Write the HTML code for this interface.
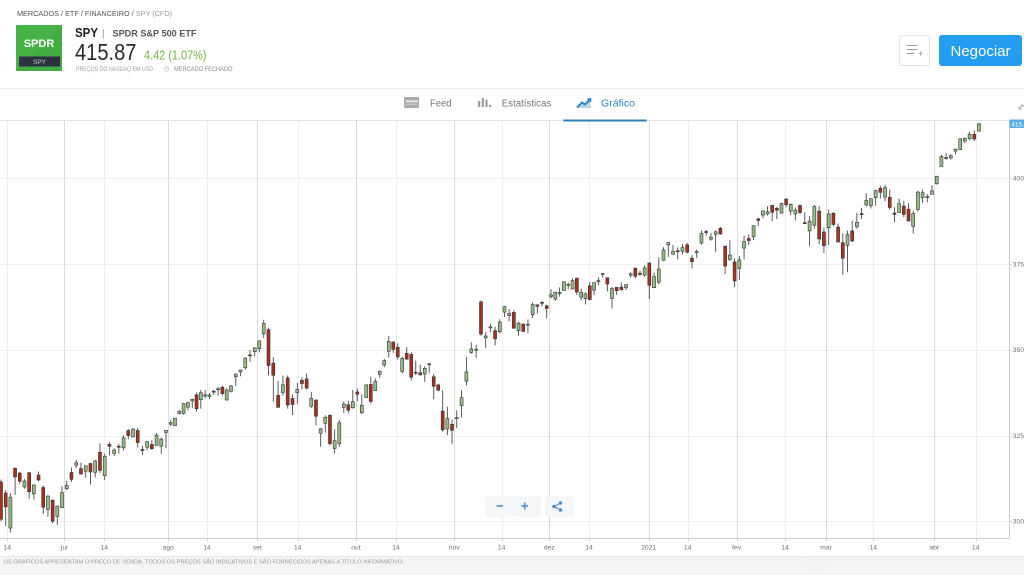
<!DOCTYPE html>
<html>
<head>
<meta charset="utf-8">
<style>
  html,body{margin:0;padding:0;background:#fff;}
  body{width:1024px;height:575px;overflow:hidden;}
  svg{display:block;font-family:"Liberation Sans",Arial,sans-serif;}
</style>
</head>
<body>
<svg id="s" width="1024" height="575" viewBox="0 0 1024 575" xmlns="http://www.w3.org/2000/svg">
  <rect x="0" y="0" width="1024" height="575" fill="#ffffff"/>

  <!-- breadcrumb -->
  <text x="17" y="16" font-size="7.6" fill="#555" textLength="155" lengthAdjust="spacingAndGlyphs">MERCADOS / ETF / FINANCEIRO / <tspan fill="#9a9a9a">SPY (CFD)</tspan></text>

  <!-- logo -->
  <rect x="16" y="25" width="46" height="46" rx="1" fill="#46b247"/>
  <polygon points="62,25 62,71 16,71" fill="#3fa941" opacity="0.6"/>
  <text x="39" y="47" font-size="11" font-weight="bold" fill="#fff" text-anchor="middle">SPDR</text>
  <rect x="19" y="56.5" width="41" height="10" fill="#2c3242"/>
  <text x="39.5" y="64" font-size="6.5" fill="#c9c9c9" text-anchor="middle">SPY</text>

  <!-- title -->
  <text x="75" y="37" font-size="13" font-weight="bold" fill="#222" textLength="23" lengthAdjust="spacingAndGlyphs">SPY</text>
  <text x="102" y="36.5" font-size="10" fill="#999">|</text>
  <text x="112.5" y="36.5" font-size="9.3" font-weight="bold" fill="#555" textLength="84" lengthAdjust="spacingAndGlyphs">SPDR S&amp;P 500 ETF</text>
  <text x="75" y="60" font-size="23" fill="#2a2a2a" textLength="61.5" lengthAdjust="spacingAndGlyphs">415.87</text>
  <text x="144" y="59.3" font-size="13" fill="#72b444" textLength="62.5" lengthAdjust="spacingAndGlyphs">4.42 (1.07%)</text>
  <text x="76" y="71" font-size="6" fill="#a3a3a3" textLength="77" lengthAdjust="spacingAndGlyphs">PREÇOS DO NASDAQ EM USD</text>
  <circle cx="166.7" cy="69" r="2.2" fill="none" stroke="#b0b0b0" stroke-width="0.6"/>
  <path d="M166.7 67.6 V69 H167.8" fill="none" stroke="#b0b0b0" stroke-width="0.5"/>
  <text x="174" y="71" font-size="6" fill="#8a8a8a" textLength="58.5" lengthAdjust="spacingAndGlyphs">MERCADO FECHADO</text>

  <!-- right buttons -->
  <rect x="899.5" y="35.5" width="30" height="30" rx="3" fill="#fff" stroke="#e3e3e3"/>
  <path d="M906.7 45.5 H917.3 M906.7 49.5 H917.3 M906.7 53.5 H914" stroke="#a0a0a0" stroke-width="1"/>
  <path d="M918.3 53.5 H922.7 M920.5 51.3 V55.7" stroke="#a0a0a0" stroke-width="0.8"/>
  <rect x="939" y="35" width="83" height="31" rx="3" fill="#249cf0"/>
  <text x="980.5" y="56" font-size="15" fill="#fff" text-anchor="middle">Negociar</text>

  <!-- header separator -->
  <line x1="0" y1="88.5" x2="1024" y2="88.5" stroke="#ececec"/>

  <!-- tabs -->
  <rect x="404" y="97" width="15" height="11" rx="1" fill="#ababab"/>
  <rect x="405.5" y="100.3" width="12" height="2" fill="#e6e6e6"/>
  <rect x="405.5" y="103.8" width="12" height="1" fill="#cfcfcf"/>
  <text x="430" y="106.5" font-size="10" fill="#777" textLength="21.5" lengthAdjust="spacingAndGlyphs">Feed</text>

  <rect x="478" y="101" width="2.2" height="6" fill="#9e9e9e"/>
  <rect x="481.7" y="98" width="2.2" height="9" fill="#9e9e9e"/>
  <rect x="485.4" y="99.5" width="2.2" height="7.5" fill="#9e9e9e"/>
  <rect x="489" y="104.8" width="2.2" height="2.2" fill="#9e9e9e"/>
  <text x="501.7" y="106.5" font-size="10" fill="#777" textLength="49.6" lengthAdjust="spacingAndGlyphs">Estatísticas</text>

  <polygon points="577,108 582,103 585,105 589.5,100.5 591,108" fill="#2f86c6" opacity="0.35"/>
  <polyline points="577,107.5 582,102.5 585,104.5 590,99.5" fill="none" stroke="#2f86c6" stroke-width="2"/>
  <polygon points="586.8,98.6 591.5,98 591,102.7" fill="#2f86c6"/>
  <text x="601" y="106.5" font-size="10" fill="#2f86c6" textLength="34" lengthAdjust="spacingAndGlyphs">Gráfico</text>

  <!-- expand icon -->
  <path d="M1019 109 L1023 105 M1019 109 V106.5 M1019 109 H1021.5 M1023 105 V107 M1023 105 H1021" stroke="#9a9a9a" stroke-width="0.8" fill="none"/>

  <!-- chart grid -->
  <g id="grid"></g>
  <g id="candles"></g>

  <!-- chart top border & tab underline -->
  <line x1="0" y1="120.5" x2="1010" y2="120.5" stroke="#e2e2e2"/>
  <rect x="563.3" y="119.5" width="83.4" height="2" fill="#2f7fb8"/>

  <!-- axes -->
  <line x1="0" y1="538.5" x2="1009.5" y2="538.5" stroke="#cfcfcf"/>
  <line x1="1009.5" y1="120" x2="1009.5" y2="538.5" stroke="#cfcfcf"/>
  <g id="axislabels" font-size="6.8" fill="#707070"></g>

  <!-- current price label -->
  <rect x="1009.5" y="119.5" width="15" height="8.5" fill="#5aaee3"/>
  <text x="1011.3" y="126.3" font-size="6.5" fill="#fff">415.87</text>

  <!-- zoom controls -->
  <rect x="486" y="497" width="25" height="19" rx="1" fill="#f6f7f8" stroke="#ececec" stroke-width="0.6"/>
  <rect x="513" y="497" width="27" height="19" rx="1" fill="#f6f7f8" stroke="#ececec" stroke-width="0.6"/>
  <rect x="546" y="497" width="27" height="19" rx="1" fill="#f6f7f8" stroke="#ececec" stroke-width="0.6"/>
  <line x1="496.5" y1="506" x2="503" y2="506" stroke="#4a90d0" stroke-width="1.6"/>
  <path d="M521.2 506 H528.2 M524.7 502.5 V509.5" stroke="#4a90d0" stroke-width="1.6"/>
  <path d="M554 506.5 L560.5 503 M554 506.5 L560.5 510" stroke="#4a90d0" stroke-width="1"/>
  <circle cx="554" cy="506.5" r="1.8" fill="#4a90d0"/>
  <circle cx="560.5" cy="503" r="1.8" fill="#4a90d0"/>
  <circle cx="560.5" cy="510" r="1.8" fill="#4a90d0"/>

  <!-- footer -->
  <rect x="0" y="556" width="1024" height="19" fill="#f4f4f4"/>
  <line x1="0" y1="556.5" x2="1024" y2="556.5" stroke="#e8e8e8"/>
  <polyline points="803,557 816,570 830,557" fill="none" stroke="#eeeeee" stroke-width="0.8"/>
  <text x="3.5" y="563.5" font-size="5.5" fill="#9a9a9a" textLength="400.5" lengthAdjust="spacingAndGlyphs">OS GRÁFICOS APRESENTAM O PREÇO DE VENDA. TODOS OS PREÇOS SÃO INDICATIVOS E SÃO FORNECIDOS APENAS A TÍTULO INFORMATIVO.</text>
</svg>

<script>
(function(){
  var NS="http://www.w3.org/2000/svg";
  function el(tag, attrs, parent, txt){
    var e=document.createElementNS(NS,tag);
    for(var k in attrs){e.setAttribute(k,attrs[k]);}
    if(txt!==undefined){e.textContent=txt;}
    parent.appendChild(e);return e;
  }
  function Y(p){return 521.3-(p-300)*3.43;}

  var grid=document.getElementById("grid");
  var labels=document.getElementById("axislabels");

  [400,375,350,325,300].forEach(function(p){
    var y=Math.round(Y(p))+0.5;
    el("line",{x1:0,y1:y,x2:1009,y2:y,stroke:"#f0f0f0"},grid);
    el("line",{x1:1009.5,y1:y,x2:1012,y2:y,stroke:"#bdbdbd","stroke-width":0.6},labels);
    el("text",{x:1012.7,y:(Y(p)+2.4).toFixed(1)},labels,String(p));
  });

  var V=[[7.3,"14",0],[64.3,"jul",1],[104.3,"14",0],[168.3,"ago",1],[207,"14",0],
         [257.3,"set",1],[297.7,"14",0],[356,"out",1],[396,"14",0],[454.3,"nov",1],
         [501.7,"14",0],[549.3,"dez",1],[589,"14",0],[648.7,"2021",1],[687.7,"14",0],
         [736.7,"fev",1],[785,"14",0],[826,"mar",1],[873.3,"14",0],[934.3,"abr",1],[975.7,"14",0]];
  V.forEach(function(v){
    var x=Math.round(v[0])+0.5;
    el("line",{x1:x,y1:121,x2:x,y2:538,stroke:v[2]?"#dadada":"#eeeeee"},grid);
    el("line",{x1:x,y1:538,x2:x,y2:541.5,stroke:"#cfcfcf","stroke-width":0.8},labels);
    el("text",{x:v[0],y:549.3,"text-anchor":"middle"},labels,v[1]);
  });

  var D=[
[311.46,312.15,300.01,300.61],[308.24,309.08,298.60,304.21],[298.02,308.28,296.74,307.05],[315.48,315.64,307.67,312.96],
[314.07,314.39,310.86,311.66],[310.01,312.30,309.51,311.78],[314.17,314.38,306.53,308.64],[307.99,310.72,306.32,310.62],
[313.49,314.50,311.61,312.05],[309.84,310.51,302.10,304.09],[303.47,307.64,301.28,307.35],[306.16,306.39,299.42,300.05],
[301.41,304.61,298.93,304.46],[303.99,310.20,303.82,308.36],
[309.57,311.89,309.07,310.52],[314.24,315.70,311.51,312.23],[316.37,317.88,315.56,317.05],[315.38,317.10,313.67,313.78],
[314.61,316.30,312.70,316.18],[316.84,317.10,310.68,314.38],[314.31,317.88,312.76,317.59],[320.13,322.71,314.13,314.84],
[313.30,319.76,312.00,318.92],[322.41,323.04,319.26,321.85],[319.79,321.28,319.09,320.79],[321.88,322.57,319.74,321.72],
[321.43,325.13,320.62,324.32],[326.45,326.93,323.94,325.01],[324.62,327.20,324.50,326.86],[326.47,327.23,321.48,322.96],
[320.95,321.99,319.25,320.88],[321.63,323.41,320.77,323.22],[322.43,323.64,320.85,321.17],[322.12,325.73,322.08,325.12],
[321.90,324.41,319.64,323.96],[325.90,326.63,321.33,326.52],
[328.32,329.62,327.73,328.79],[327.86,330.06,327.86,330.06],[331.47,332.39,331.18,332.11],[331.48,334.46,331.13,334.33],
[333.28,334.88,332.30,334.57],[335.06,335.77,332.96,335.57],[336.85,337.54,332.01,332.80],[335.44,338.28,332.84,337.44],
[336.60,338.25,335.83,336.83],[336.41,337.42,335.62,336.84],[337.94,338.34,336.85,337.91],[338.34,339.10,336.61,338.64],
[339.05,339.61,336.62,337.23],[335.36,338.80,335.22,338.28],[337.92,339.72,337.55,339.48],[342.12,343.00,339.45,342.92],
[343.53,344.21,342.27,344.12],[344.76,347.86,344.17,347.57],[348.51,349.90,346.53,348.33],[349.44,350.72,348.15,350.58],
[350.35,351.30,349.06,349.31],
[350.35,352.71,349.24,352.60],[354.67,358.75,353.43,357.70],[355.87,356.38,342.59,345.39],[346.13,347.83,334.87,342.57],
[336.71,340.95,333.22,333.21],[337.55,342.46,336.61,339.79],[341.82,342.53,332.85,333.89],[335.82,336.97,331.00,334.06],
[337.49,340.38,334.22,338.46],[341.12,342.02,338.47,340.17],[341.51,343.06,338.52,338.82],[333.56,337.70,332.99,335.84],
[335.37,335.49,327.97,330.65],[325.70,327.13,321.73,326.97],[328.57,330.90,325.86,330.30],[330.90,331.20,322.10,322.64],
[321.22,326.80,319.80,323.50],[322.58,329.58,321.64,328.73],[333.22,334.96,331.60,334.19],[333.97,335.19,331.51,332.37],
[333.09,338.29,332.88,334.89],
[337.69,338.74,335.01,337.04],[331.70,337.02,331.19,333.84],[336.06,339.96,336.01,339.76],[339.91,342.17,334.38,334.93],
[338.12,341.63,338.09,340.76],[342.85,343.85,341.86,343.78],[345.56,347.35,344.89,346.85],[349.59,354.02,347.76,352.43],
[352.28,352.47,349.09,350.13],[350.75,351.93,347.14,347.93],[343.71,348.02,343.13,347.50],[348.96,350.75,347.10,347.29],
[348.65,349.33,341.04,342.01],[343.46,346.88,342.64,343.38],[343.33,345.67,342.40,342.73],[342.96,345.24,340.65,344.61],
[345.93,345.99,343.13,345.78],[342.13,342.98,335.62,339.39],[339.76,340.12,337.99,338.22],[332.10,338.25,326.13,326.66],
[326.91,333.40,325.09,329.98],[328.28,329.69,322.60,326.54],
[330.20,332.36,327.24,330.20],[333.69,338.25,330.29,336.03],[340.86,347.94,339.59,343.54],[349.24,352.19,348.86,350.24],
[349.93,351.51,347.65,350.16],[363.97,364.38,354.06,354.56],[353.49,355.18,350.51,354.04],[356.40,357.56,355.06,356.67],
[355.58,356.72,351.26,353.21],[355.27,358.90,354.71,358.10],[360.98,362.78,359.59,362.57],[359.97,361.92,358.34,360.62],
[360.91,361.50,356.24,356.28],[355.60,358.18,354.15,357.78],[357.50,357.72,355.25,355.33],[357.28,358.82,354.87,357.46],
[360.21,363.81,359.29,363.22],[363.13,363.16,360.58,362.66],[363.84,364.18,362.58,363.67],[362.83,363.12,359.17,362.06],
[365.57,367.68,364.93,366.02],[364.82,366.96,364.20,366.79],[366.68,368.19,365.50,366.69],[367.32,369.85,367.22,369.85],
[369.02,369.62,367.72,369.09],[367.72,370.78,367.67,370.17],[370.88,371.05,365.95,366.85],[365.37,367.86,364.43,366.73],
[364.90,366.74,363.26,366.30],[368.64,369.80,364.47,364.66],[367.40,369.59,365.92,369.59],[369.82,371.16,368.87,370.17],
[371.94,372.46,371.05,372.24],[370.97,371.15,367.02,369.18],[364.97,368.33,362.03,367.86],[368.21,368.33,366.03,367.24],
[368.28,369.62,367.22,367.57],[368.08,369.03,367.45,369.00],[371.74,372.59,371.07,372.17],[373.81,374.00,370.83,371.46],
[372.34,373.10,371.57,371.99],[371.78,374.66,371.23,373.88],
[375.31,375.45,364.82,368.79],[368.10,372.50,368.05,371.33],[369.71,376.98,369.12,373.55],[376.10,379.90,375.91,379.10],
[380.59,381.49,377.10,381.26],[377.85,380.58,377.72,378.69],[378.89,379.86,376.36,378.77],[378.69,380.86,377.85,379.79],
[380.59,381.13,378.10,378.46],[376.72,377.58,373.70,375.70],[378.34,379.23,376.75,378.65],[381.11,384.79,380.69,383.89],
[384.49,384.95,383.25,384.24],[382.25,384.13,381.84,382.88],[383.67,384.77,378.46,384.39],[385.41,385.85,383.54,383.79],
[380.22,380.32,372.01,374.41],[376.36,381.93,375.89,377.63],[375.63,376.67,368.27,370.07],
[373.72,377.34,370.38,376.23],[379.65,383.22,376.32,381.55],[382.44,383.70,380.48,381.85],[382.96,386.24,381.97,386.19],
[388.20,388.47,386.14,387.71],[389.27,390.56,388.35,390.51],[389.61,391.89,389.17,390.25],[392.12,392.28,387.50,390.08],
[391.24,391.69,388.10,390.71],[389.85,392.90,389.77,392.64],[393.96,394.17,391.53,392.30],[390.42,392.66,389.33,392.39],
[389.59,391.52,387.74,390.72],[392.07,392.38,389.55,390.03],[387.06,390.11,386.86,387.03],[384.66,388.95,380.20,387.50],
[386.33,392.23,385.27,391.77],[390.41,391.88,380.78,382.33],[384.35,385.58,378.23,380.36],
[385.59,390.92,380.57,389.58],[389.82,390.07,386.00,386.54],[385.79,386.83,381.31,381.42],[381.22,384.00,371.88,376.70],
[380.46,384.76,372.64,383.63],[384.66,387.68,381.42,381.72],[385.85,389.91,385.31,387.17],[389.69,391.40,388.17,389.58],
[392.23,395.65,391.74,393.53],[392.07,394.21,391.20,394.06],[394.33,396.69,392.03,396.41],[397.07,397.83,394.11,395.91],
[394.53,398.12,393.30,397.26],[394.48,396.72,390.75,391.48],[389.88,391.57,387.15,389.48],[390.03,394.07,389.97,392.59],
[391.91,393.46,388.66,389.50],[391.00,392.75,387.47,387.52],[385.98,390.55,383.90,389.70],[390.93,396.41,390.29,395.98],
[394.40,396.75,392.81,395.78],[394.42,395.45,393.02,394.73],[395.34,398.00,395.31,396.33],
[398.40,400.67,398.18,400.61],[403.46,406.94,403.38,406.36],[405.76,407.24,405.40,406.12],[405.94,406.96,405.45,406.59],
[407.93,408.58,406.93,408.52],[408.39,411.67,408.26,411.49],[410.85,411.93,410.20,411.64],[411.53,413.53,411.12,412.86],
[412.83,413.96,410.87,411.45],[413.74,416.16,413.69,415.87]
  ];

  var A=[[0,1],[14,66.7],[22,104.7],[36,170.7],[50,231],[53,245.3],[55,254.7],[57,259.3],[58,263.7],
         [65,297.3],[74,339.3],[97,442.7],[100,456.7],[105,481],[119,546.7],[132,602.7],[142,649.3],
         [165,758.3],[174,800],[180,828.7],[203,936.7],[212,979]];
  function X(i){
    for(var k=0;k<A.length-1;k++){
      if(i<=A[k+1][0]){
        var a=A[k][0],xa=A[k][1],b=A[k+1][0],xb=A[k+1][1];
        return xa+(i-a)*(xb-xa)/(b-a);
      }
    }
    return A[A.length-1][1];
  }

  var g=document.getElementById("candles");
  var hw=1.5;
  for(var i=0;i<D.length;i++){
    if(i===56) continue;
    var d=D[i],o=d[0],h=d[1],l=d[2],c=d[3];
    var x=X(i);
    var up=c>=o;
    el("line",{x1:x.toFixed(2),y1:Y(h).toFixed(2),x2:x.toFixed(2),y2:Y(l).toFixed(2),stroke:"#4a4a4a","stroke-width":0.9},g);
    var yt=Y(Math.max(o,c)),yb=Y(Math.min(o,c));
    var hh=Math.max(1,yb-yt);
    el("rect",{x:(x-hw).toFixed(2),y:yt.toFixed(2),width:(2*hw).toFixed(2),height:hh.toFixed(2),
      fill:up?"#93bd85":"#a5321f",stroke:"#333","stroke-width":0.6},g);
  }
})();
</script>
</body>
</html>
